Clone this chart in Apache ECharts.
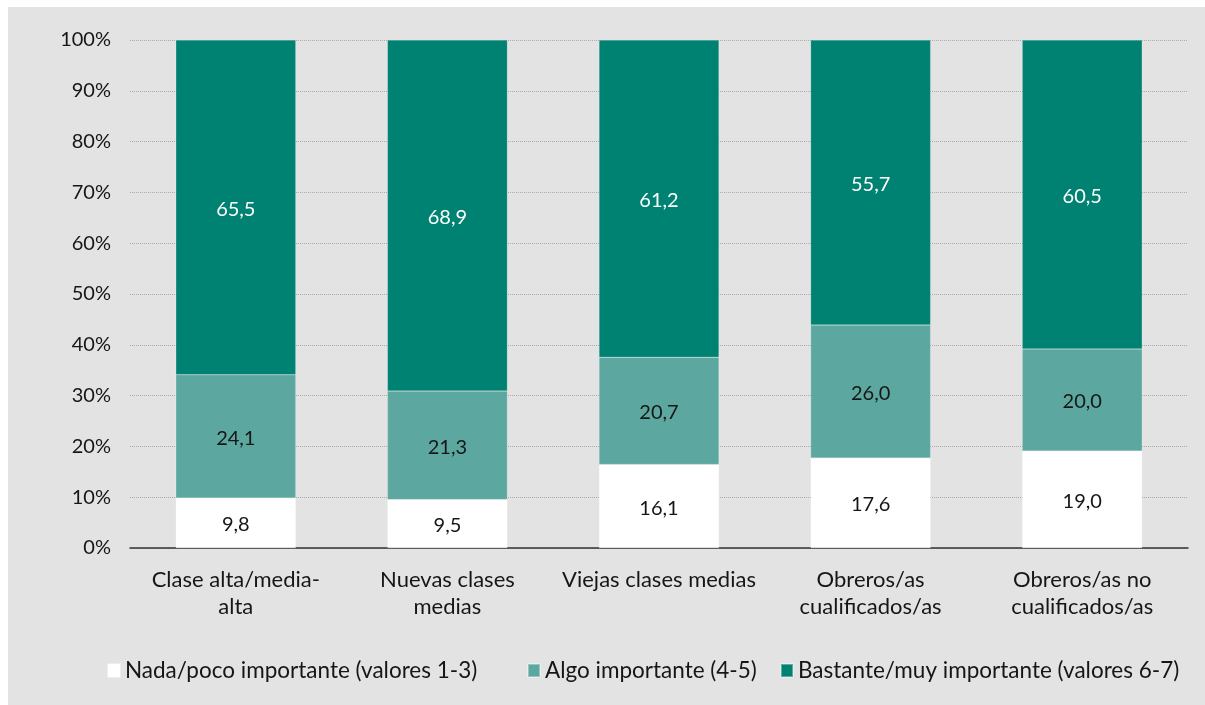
<!DOCTYPE html>
<html lang="es">
<head>
    <meta charset="UTF-8">
    <title>Importancia por clase social</title>
    <script src="https://cdn.jsdelivr.net/npm/echarts@6/dist/echarts.min.js"></script>
    <style>
        html, body { margin: 0; padding: 0; background: #ffffff; }
        #chart { position: absolute; left: 8px; top: 7px; width: 1197px; height: 698px; background: #e3e3e3; }
    </style>
</head>
<body>
<div id="chart"></div>
<script>
    var categories = ['Clase alta/media-\nalta', 'Nuevas clases\nmedias', 'Viejas clases medias', 'Obreros/as\ncualificados/as', 'Obreros/as no\ncualificados/as'];
    var seriesNames = ['Nada/poco importante (valores 1-3)', 'Algo importante (4-5)', 'Bastante/muy importante (valores 6-7)'];
    var nada = [9.8, 9.5, 16.1, 17.6, 19.0];
    var algo = [24.1, 21.3, 20.7, 26.0, 20.0];
    var bastante = [65.5, 68.9, 61.2, 55.7, 60.5];
    var yTicks = [0, 10, 20, 30, 40, 50, 60, 70, 80, 90, 100];

    var colors = ['#ffffff', '#5ca8a0', '#008272'];
    var labelColors = ['#161616', '#161616', '#ffffff'];
    var font = 'Lato';
    var legendLeft = [94, 514, 767];

    // 100% stacked: each bar is scaled to its own total
    var raw = [nada, algo, bastante];
    var totals = nada.map(function (v, i) { return nada[i] + algo[i] + bastante[i]; });

    var series = raw.map(function (vals, s) {
        return {
            name: seriesNames[s],
            type: 'bar',
            stack: 'total',
            barWidth: 120,
            data: vals.map(function (v, i) { return { value: v / totals[i] * 100, raw: v }; }),
            itemStyle: { color: colors[s], borderColor: 'rgba(255,255,255,0.35)', borderWidth: 0.5 },
            label: {
                show: true,
                position: 'inside',
                offset: [0, 2],
                color: labelColors[s],
                fontFamily: font,
                fontSize: 20,
                formatter: function (p) { return p.data.raw.toFixed(1).replace('.', ','); }
            }
        };
    });

    // one legend per item so each can sit where the original has it
    var legends = seriesNames.map(function (name, i) {
        return {
            bottom: 18,
            left: legendLeft[i],
            itemWidth: 12,
            itemHeight: 13,
            icon: 'rect',
            textStyle: { fontFamily: font, fontSize: 22.5, color: '#161616' },
            data: [name]
        };
    });

    var myChart = echarts.init(document.getElementById('chart'));
    var option = {
        animation: false,
        textStyle: { fontFamily: font },
        grid: { left: 122, right: 17, top: 33, bottom: 157 },
        legend: legends,
        xAxis: {
            type: 'category',
            data: categories,
            axisLine: { lineStyle: { color: '#333', width: 1.5 } },
            axisTick: { show: false },
            axisLabel: { fontFamily: font, fontSize: 22, color: '#161616', lineHeight: 27, margin: 18, interval: 0 }
        },
        yAxis: {
            type: 'value',
            min: 0,
            max: 100,
            interval: 10,
            axisLine: { show: false },
            axisTick: { show: false },
            splitLine: { lineStyle: { type: 'dotted', color: '#ababab', width: 1 } },
            axisLabel: {
                fontFamily: font, fontSize: 20, color: '#161616', margin: 19,
                formatter: function (v) { return yTicks.indexOf(v) >= 0 ? v + '%' : ''; }
            }
        },
        series: series
    };
    option && myChart.setOption(option);
</script>
</body>
</html>
